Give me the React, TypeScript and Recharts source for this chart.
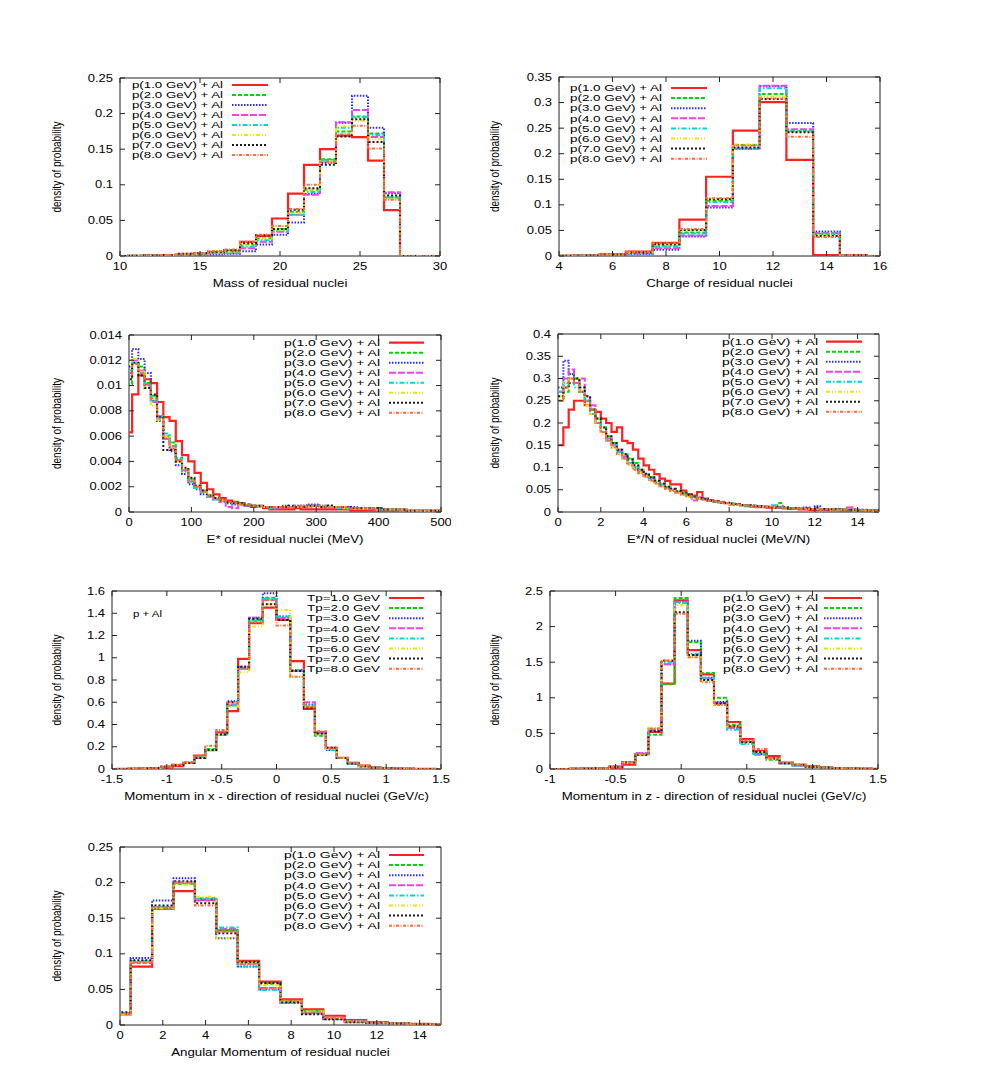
import React from 'react'
import { LineChart, Line, XAxis, YAxis, ReferenceArea } from 'recharts'

const FONT = '"Liberation Sans", Arial, Helvetica, sans-serif'

const BEAM_LABELS = ['p(1.0 GeV) + Al', 'p(2.0 GeV) + Al', 'p(3.0 GeV) + Al', 'p(4.0 GeV) + Al', 'p(5.0 GeV) + Al', 'p(6.0 GeV) + Al', 'p(7.0 GeV) + Al', 'p(8.0 GeV) + Al']
const TP_LABELS = ['Tp=1.0 GeV', 'Tp=2.0 GeV', 'Tp=3.0 GeV', 'Tp=4.0 GeV', 'Tp=5.0 GeV', 'Tp=6.0 GeV', 'Tp=7.0 GeV', 'Tp=8.0 GeV']
const COLORS = ['#ff2020', '#00d800', '#2a2aff', '#f040f0', '#00d8d8', '#e8e800', '#1a1a1a', '#ff6a3d']
const DASHES = ['', '4 2', '1.5 1.5', '7 2', '5 2 1.5 2', '4 2 1 2 1 2', '2 2', '3 1.5 1 1.5']
const WIDTHS = [2.2, 2, 2, 2, 2, 2, 2, 2]

const range = (start: number, stop: number, step: number) =>
  Array.from({ length: Math.round((stop - start) / step) + 1 }, (_, i) => +(start + i * step).toFixed(4))

// histeps: edges half a bin either side of each centre
const edgesFromCenters = (centers: number[]) => {
  const w = centers[1] - centers[0]
  return [...centers.map((c) => +(c - w / 2).toFixed(4)), +(centers[centers.length - 1] + w / 2).toFixed(4)]
}

// ---- mass of residual nuclei (bins centred on integers 10..30)
const MASS_CENTERS = range(10, 30, 1)
const MASS_RED = [0, 0, 0.0005, 0.001, 0.002, 0.003, 0.005, 0.0066, 0.0198, 0.0282, 0.0527, 0.0875, 0.128, 0.15, 0.169, 0.167, 0.134, 0.0645, 0, 0, 0]
const MASS_GREEN = [0, 0.0002, 0.0005, 0.0012, 0.0025, 0.003, 0.005, 0.007, 0.015, 0.025, 0.038, 0.062, 0.093, 0.136, 0.175, 0.196, 0.172, 0.082, 0, 0, 0]
const MASS_BLUE = [0, 0.0001, 0.0003, 0.0008, 0.0015, 0.002, 0.002, 0.003, 0.0065, 0.016, 0.03, 0.047, 0.087, 0.131, 0.187, 0.225, 0.18, 0.088, 0, 0, 0]
const MASS_MAGENTA = [0, 0.0002, 0.0004, 0.001, 0.002, 0.003, 0.004, 0.004, 0.011, 0.02, 0.034, 0.058, 0.086, 0.135, 0.188, 0.205, 0.167, 0.0895, 0, 0, 0]
const MASS_CYAN = [0, 0.0002, 0.0005, 0.001, 0.002, 0.003, 0.004, 0.005, 0.013, 0.022, 0.035, 0.058, 0.09, 0.134, 0.18, 0.195, 0.17, 0.082, 0, 0, 0]
const MASS_YELLOW = [0, 0.0002, 0.0005, 0.0012, 0.0025, 0.003, 0.005, 0.006, 0.015, 0.025, 0.037, 0.06, 0.093, 0.133, 0.182, 0.19, 0.164, 0.08, 0, 0, 0]
const MASS_BLACK = [0, 0.0003, 0.0006, 0.0015, 0.003, 0.004, 0.006, 0.008, 0.018, 0.029, 0.038, 0.065, 0.095, 0.128, 0.168, 0.192, 0.16, 0.085, 0, 0, 0]
const MASS_ORANGE = [0, 0.0003, 0.0007, 0.0015, 0.003, 0.004, 0.007, 0.009, 0.02, 0.03, 0.042, 0.066, 0.1, 0.132, 0.171, 0.183, 0.151, 0.079, 0, 0, 0]

// ---- charge of residual nuclei (4..16)
const CHARGE_CENTERS = range(4, 16, 1)
const CHARGE_RED = [0.0003, 0.001, 0.003, 0.0085, 0.0255, 0.0713, 0.155, 0.245, 0.301, 0.188, 0.002, 0, 0]
const CHARGE_GREEN = [0.0003, 0.001, 0.002, 0.006, 0.02, 0.046, 0.108, 0.217, 0.317, 0.245, 0.043, 0.002, 0]
const CHARGE_BLUE = [0.0002, 0.001, 0.002, 0.004, 0.012, 0.038, 0.095, 0.209, 0.332, 0.26, 0.048, 0.002, 0]
const CHARGE_MAGENTA = [0.0002, 0.001, 0.002, 0.005, 0.015, 0.04, 0.098, 0.21, 0.333, 0.248, 0.045, 0.002, 0]
const CHARGE_CYAN = [0.0002, 0.001, 0.002, 0.005, 0.018, 0.044, 0.105, 0.21, 0.328, 0.244, 0.044, 0.002, 0]
const CHARGE_YELLOW = [0.0003, 0.001, 0.003, 0.007, 0.022, 0.05, 0.112, 0.218, 0.312, 0.243, 0.04, 0.002, 0]
const CHARGE_BLACK = [0.0003, 0.001, 0.003, 0.007, 0.023, 0.051, 0.111, 0.212, 0.307, 0.242, 0.039, 0.002, 0]
const CHARGE_ORANGE = [0.0003, 0.0012, 0.003, 0.008, 0.025, 0.053, 0.113, 0.216, 0.308, 0.233, 0.037, 0.002, 0]

// ---- E* (MeV), 10 MeV bins
const ESTAR_CENTERS = range(0, 500, 10)
const ESTAR_RED = [0.0063, 0.0093, 0.0108, 0.0105, 0.0102, 0.0087, 0.0075, 0.0072, 0.0056, 0.0045, 0.004, 0.0031, 0.0023, 0.0018, 0.0014, 0.0011, 0.0009, 0.0008, 0.0007, 0.0005, 0.0004, 0.0004, 0.0003, 0.0002, 0.0002, 0.0002, 0.0002, 0.0003, 0.0002, 0.0002, 0.0002, 0.0002, 0.0002, 0.0002, 0.0002, 0.0002, 0.0001, 0.0001, 0.0001, 0.0001, 0.0001, 0.0001, 0.0001, 0.0001, 0.0001, 0.0001, 0.0001, 0.0001, 0.0001, 0.0001, 0]
const ESTAR_GREEN = [0.0101, 0.0117, 0.0115, 0.0102, 0.0092, 0.0075, 0.006, 0.0055, 0.0043, 0.0033, 0.0026, 0.002, 0.0017, 0.0013, 0.001, 0.0009, 0.0008, 0.0008, 0.0007, 0.0006, 0.0005, 0.0005, 0.0004, 0.0004, 0.0004, 0.0004, 0.0004, 0.0004, 0.0004, 0.0005, 0.0005, 0.0004, 0.0005, 0.0004, 0.0004, 0.0004, 0.0003, 0.0003, 0.0003, 0.0003, 0.0003, 0.0002, 0.0002, 0.0002, 0.0002, 0.0001, 0.0001, 0.0001, 0.0001, 0.0001, 0.0001]
const ESTAR_BLUE = [0.0115, 0.0129, 0.0121, 0.011, 0.0088, 0.0072, 0.0058, 0.0048, 0.0037, 0.003, 0.0022, 0.0018, 0.0014, 0.0012, 0.001, 0.0009, 0.0007, 0.0006, 0.0006, 0.0005, 0.0005, 0.0004, 0.0004, 0.0004, 0.0004, 0.0005, 0.0004, 0.0005, 0.0005, 0.0006, 0.0006, 0.0005, 0.0005, 0.0004, 0.0004, 0.0004, 0.0004, 0.0003, 0.0003, 0.0003, 0.0003, 0.0002, 0.0002, 0.0002, 0.0002, 0.0001, 0.0001, 0.0001, 0.0001, 0.0001, 0.0001]
const ESTAR_MAGENTA = [0.011, 0.012, 0.0112, 0.0101, 0.0087, 0.0076, 0.0058, 0.005, 0.0041, 0.0033, 0.0025, 0.002, 0.0016, 0.0012, 0.001, 0.0008, 0.0004, 0.0003, 0.0006, 0.0005, 0.0005, 0.0004, 0.0004, 0.0004, 0.0003, 0.0004, 0.0004, 0.0004, 0.0005, 0.0004, 0.0005, 0.0004, 0.0004, 0.0004, 0.0004, 0.0003, 0.0003, 0.0003, 0.0003, 0.0002, 0.0002, 0.0002, 0.0002, 0.0002, 0.0001, 0.0001, 0.0001, 0.0001, 0.0001, 0.0001, 0.0001]
const ESTAR_CYAN = [0.0112, 0.0118, 0.011, 0.01, 0.0088, 0.0076, 0.0062, 0.0052, 0.0042, 0.0032, 0.0024, 0.0019, 0.0016, 0.0012, 0.001, 0.0009, 0.0008, 0.0007, 0.0006, 0.0005, 0.0005, 0.0004, 0.0004, 0.0003, 0.0004, 0.0004, 0.0004, 0.0004, 0.0004, 0.0004, 0.0005, 0.0004, 0.0004, 0.0004, 0.0003, 0.0003, 0.0003, 0.0003, 0.0003, 0.0003, 0.0002, 0.0002, 0.0002, 0.0002, 0.0001, 0.0001, 0.0001, 0.0001, 0.0001, 0.0001, 0.0001]
const ESTAR_YELLOW = [0.0117, 0.0121, 0.0112, 0.0098, 0.0084, 0.0073, 0.006, 0.005, 0.004, 0.0034, 0.0026, 0.0021, 0.0016, 0.0013, 0.0011, 0.0009, 0.0008, 0.0007, 0.0006, 0.0006, 0.0005, 0.0004, 0.0004, 0.0004, 0.0004, 0.0004, 0.0004, 0.0004, 0.0005, 0.0004, 0.0004, 0.0004, 0.0004, 0.0004, 0.0004, 0.0003, 0.0003, 0.0003, 0.0003, 0.0003, 0.0002, 0.0002, 0.0002, 0.0002, 0.0002, 0.0001, 0.0001, 0.0001, 0.0001, 0.0001, 0.0001]
const ESTAR_BLACK = [0.0105, 0.0118, 0.0108, 0.0098, 0.0093, 0.0075, 0.0049, 0.0049, 0.004, 0.0035, 0.0027, 0.0021, 0.0017, 0.0013, 0.0011, 0.0009, 0.0008, 0.0007, 0.0007, 0.0006, 0.0005, 0.0005, 0.0004, 0.0004, 0.0004, 0.0004, 0.0005, 0.0004, 0.0004, 0.0005, 0.0005, 0.0004, 0.0005, 0.0004, 0.0004, 0.0004, 0.0003, 0.0003, 0.0003, 0.0003, 0.0003, 0.0002, 0.0002, 0.0002, 0.0002, 0.0001, 0.0001, 0.0001, 0.0001, 0.0001, 0.0001]
const ESTAR_ORANGE = [0.0108, 0.0117, 0.011, 0.01, 0.009, 0.0074, 0.0058, 0.0052, 0.0041, 0.0033, 0.0025, 0.002, 0.0016, 0.0013, 0.0011, 0.0009, 0.0008, 0.0007, 0.0006, 0.0006, 0.0005, 0.0005, 0.0004, 0.0004, 0.0004, 0.0004, 0.0004, 0.0005, 0.0004, 0.0005, 0.0005, 0.0005, 0.0004, 0.0004, 0.0004, 0.0004, 0.0003, 0.0003, 0.0003, 0.0003, 0.0002, 0.0002, 0.0002, 0.0002, 0.0002, 0.0001, 0.0001, 0.0001, 0.0001, 0.0001, 0.0001]

// ---- E*/N (MeV/N), 0.25 bins from 0 to 15
const EN_EDGES = range(0, 15, 0.25)
const EN_RED = [0.15, 0.19, 0.23, 0.25, 0.25, 0.24, 0.23, 0.225, 0.21, 0.2, 0.18, 0.19, 0.16, 0.155, 0.14, 0.12, 0.105, 0.095, 0.085, 0.075, 0.07, 0.062, 0.062, 0.048, 0.04, 0.037, 0.045, 0.03, 0.026, 0.024, 0.021, 0.02, 0.017, 0.016, 0.015, 0.013, 0.012, 0.011, 0.011, 0.01, 0.009, 0.009, 0.008, 0.007, 0.007, 0.006, 0.006, 0.005, 0.005, 0.005, 0.004, 0.004, 0.004, 0.003, 0.003, 0.003, 0.003, 0.003, 0.002, 0.002]
const EN_GREEN = [0.25, 0.27, 0.31, 0.3, 0.27, 0.25, 0.23, 0.21, 0.19, 0.17, 0.155, 0.14, 0.13, 0.12, 0.11, 0.095, 0.085, 0.078, 0.07, 0.062, 0.056, 0.05, 0.046, 0.042, 0.036, 0.034, 0.032, 0.03, 0.026, 0.025, 0.023, 0.02, 0.019, 0.017, 0.016, 0.015, 0.014, 0.013, 0.012, 0.012, 0.011, 0.02, 0.01, 0.009, 0.009, 0.008, 0.008, 0.007, 0.007, 0.006, 0.007, 0.006, 0.005, 0.006, 0.005, 0.005, 0.004, 0.005, 0.004, 0.004]
const EN_BLUE = [0.28, 0.34, 0.31, 0.29, 0.27, 0.25, 0.22, 0.2, 0.18, 0.165, 0.15, 0.135, 0.122, 0.11, 0.1, 0.09, 0.082, 0.075, 0.066, 0.06, 0.054, 0.049, 0.045, 0.04, 0.036, 0.033, 0.03, 0.028, 0.026, 0.023, 0.021, 0.02, 0.018, 0.017, 0.016, 0.015, 0.013, 0.013, 0.012, 0.011, 0.01, 0.01, 0.009, 0.009, 0.008, 0.008, 0.01, 0.007, 0.013, 0.007, 0.006, 0.006, 0.006, 0.005, 0.005, 0.005, 0.005, 0.004, 0.004, 0.004]
const EN_MAGENTA = [0.27, 0.3, 0.32, 0.29, 0.3, 0.26, 0.24, 0.2, 0.18, 0.165, 0.15, 0.14, 0.125, 0.11, 0.1, 0.092, 0.08, 0.074, 0.068, 0.06, 0.052, 0.05, 0.044, 0.04, 0.035, 0.026, 0.033, 0.029, 0.026, 0.024, 0.022, 0.02, 0.018, 0.017, 0.016, 0.014, 0.014, 0.013, 0.012, 0.011, 0.011, 0.01, 0.01, 0.009, 0.009, 0.008, 0.008, 0.007, 0.007, 0.007, 0.006, 0.006, 0.006, 0.005, 0.01, 0.005, 0.005, 0.004, 0.004, 0.003]
const EN_CYAN = [0.27, 0.29, 0.3, 0.28, 0.27, 0.25, 0.22, 0.2, 0.18, 0.16, 0.15, 0.135, 0.12, 0.11, 0.1, 0.09, 0.081, 0.074, 0.068, 0.061, 0.055, 0.05, 0.044, 0.04, 0.036, 0.032, 0.03, 0.028, 0.025, 0.023, 0.021, 0.02, 0.018, 0.016, 0.015, 0.014, 0.014, 0.012, 0.012, 0.011, 0.015, 0.01, 0.009, 0.009, 0.008, 0.008, 0.007, 0.007, 0.007, 0.006, 0.006, 0.006, 0.005, 0.005, 0.005, 0.005, 0.004, 0.004, 0.004, 0.003]
const EN_YELLOW = [0.26, 0.29, 0.3, 0.3, 0.27, 0.24, 0.22, 0.2, 0.175, 0.16, 0.145, 0.13, 0.12, 0.108, 0.098, 0.088, 0.08, 0.072, 0.066, 0.058, 0.053, 0.048, 0.043, 0.039, 0.035, 0.032, 0.03, 0.027, 0.025, 0.023, 0.021, 0.019, 0.018, 0.016, 0.015, 0.014, 0.013, 0.012, 0.011, 0.011, 0.01, 0.01, 0.009, 0.009, 0.008, 0.008, 0.007, 0.007, 0.006, 0.006, 0.006, 0.005, 0.005, 0.005, 0.005, 0.004, 0.004, 0.004, 0.004, 0.003]
const EN_BLACK = [0.26, 0.28, 0.29, 0.3, 0.28, 0.26, 0.23, 0.21, 0.19, 0.17, 0.155, 0.14, 0.13, 0.118, 0.105, 0.095, 0.086, 0.078, 0.07, 0.064, 0.057, 0.052, 0.047, 0.042, 0.038, 0.034, 0.031, 0.029, 0.026, 0.024, 0.022, 0.021, 0.019, 0.018, 0.016, 0.015, 0.014, 0.013, 0.012, 0.012, 0.011, 0.01, 0.01, 0.009, 0.009, 0.008, 0.008, 0.007, 0.01, 0.007, 0.006, 0.006, 0.006, 0.005, 0.005, 0.005, 0.004, 0.004, 0.004, 0.004]
const EN_ORANGE = [0.25, 0.28, 0.3, 0.29, 0.27, 0.25, 0.23, 0.2, 0.18, 0.16, 0.145, 0.13, 0.12, 0.105, 0.095, 0.087, 0.078, 0.07, 0.064, 0.058, 0.052, 0.047, 0.043, 0.04, 0.036, 0.033, 0.03, 0.028, 0.026, 0.024, 0.022, 0.02, 0.018, 0.017, 0.016, 0.015, 0.014, 0.013, 0.012, 0.011, 0.011, 0.01, 0.009, 0.009, 0.008, 0.008, 0.007, 0.007, 0.007, 0.006, 0.006, 0.006, 0.005, 0.005, 0.01, 0.005, 0.004, 0.004, 0.004, 0.003]

// ---- momentum in x (GeV/c); bin edges
const PX_EDGES = [-1.55, -1.45, -1.35, -1.25, -1.15, -1.05, -0.95, -0.85, -0.75, -0.65, -0.55, -0.45, -0.35, -0.25, -0.125, 0, 0.125, 0.25, 0.35, 0.45, 0.55, 0.65, 0.75, 0.85, 0.95, 1.05, 1.15, 1.25, 1.35, 1.45, 1.55]
const PX_RED = [0, 0.001, 0.002, 0.003, 0.006, 0.012, 0.025, 0.055, 0.12, 0.17, 0.33, 0.52, 0.99, 1.31, 1.45, 1.34, 0.97, 0.54, 0.33, 0.19, 0.1, 0.055, 0.03, 0.012, 0.006, 0.003, 0.002, 0.001, 0.0005, 0]
const PX_GREEN = [0, 0.001, 0.002, 0.004, 0.008, 0.018, 0.035, 0.055, 0.1, 0.18, 0.31, 0.57, 0.9, 1.34, 1.54, 1.36, 0.88, 0.56, 0.3, 0.18, 0.1, 0.05, 0.025, 0.012, 0.006, 0.003, 0.002, 0.001, 0.0005, 0]
const PX_BLUE = [0, 0.001, 0.002, 0.004, 0.008, 0.02, 0.035, 0.055, 0.1, 0.17, 0.31, 0.61, 0.92, 1.36, 1.58, 1.37, 0.89, 0.58, 0.32, 0.17, 0.1, 0.05, 0.025, 0.012, 0.006, 0.003, 0.002, 0.001, 0.0005, 0]
const PX_MAGENTA = [0, 0.001, 0.002, 0.004, 0.008, 0.02, 0.035, 0.055, 0.1, 0.17, 0.32, 0.58, 0.91, 1.36, 1.52, 1.35, 0.88, 0.6, 0.33, 0.18, 0.1, 0.05, 0.025, 0.012, 0.006, 0.003, 0.002, 0.001, 0.0005, 0]
const PX_CYAN = [0, 0.001, 0.002, 0.004, 0.008, 0.02, 0.035, 0.06, 0.11, 0.17, 0.31, 0.57, 0.9, 1.33, 1.53, 1.37, 0.89, 0.57, 0.31, 0.17, 0.1, 0.05, 0.025, 0.012, 0.006, 0.003, 0.002, 0.001, 0.0005, 0]
const PX_YELLOW = [0, 0.001, 0.002, 0.004, 0.008, 0.02, 0.035, 0.055, 0.1, 0.17, 0.31, 0.56, 0.87, 1.28, 1.48, 1.43, 0.83, 0.56, 0.31, 0.18, 0.1, 0.055, 0.03, 0.012, 0.006, 0.003, 0.002, 0.001, 0.0005, 0]
const PX_BLACK = [0, 0.001, 0.002, 0.004, 0.008, 0.02, 0.035, 0.055, 0.1, 0.17, 0.31, 0.6, 0.92, 1.35, 1.48, 1.34, 0.88, 0.55, 0.32, 0.19, 0.1, 0.05, 0.025, 0.012, 0.006, 0.003, 0.002, 0.001, 0.0005, 0]
const PX_ORANGE = [0, 0.001, 0.002, 0.004, 0.01, 0.02, 0.04, 0.06, 0.12, 0.21, 0.35, 0.6, 0.9, 1.32, 1.52, 1.29, 0.83, 0.56, 0.34, 0.19, 0.1, 0.055, 0.03, 0.012, 0.006, 0.003, 0.002, 0.001, 0.0005, 0]

// ---- momentum in z (GeV/c), 0.1 bins centred on -1.0..1.5
const PZ_CENTERS = range(-1, 1.5, 0.1)
const PZ_RED = [0, 0, 0.002, 0.005, 0.01, 0.02, 0.06, 0.21, 0.52, 1.2, 2.37, 1.67, 1.33, 0.93, 0.66, 0.42, 0.25, 0.18, 0.09, 0.06, 0.04, 0.02, 0.012, 0.006, 0.003, 0.001]
const PZ_GREEN = [0, 0, 0.002, 0.005, 0.012, 0.03, 0.09, 0.2, 0.48, 1.19, 2.4, 1.78, 1.35, 1.0, 0.62, 0.38, 0.22, 0.13, 0.08, 0.05, 0.03, 0.02, 0.01, 0.006, 0.003, 0.001]
const PZ_BLUE = [0, 0, 0.002, 0.006, 0.012, 0.035, 0.1, 0.22, 0.55, 1.47, 2.35, 1.8, 1.28, 0.94, 0.58, 0.37, 0.21, 0.14, 0.08, 0.05, 0.03, 0.02, 0.01, 0.006, 0.003, 0.001]
const PZ_MAGENTA = [0, 0, 0.002, 0.006, 0.012, 0.03, 0.1, 0.22, 0.54, 1.47, 2.35, 1.6, 1.27, 0.92, 0.58, 0.38, 0.2, 0.15, 0.08, 0.05, 0.03, 0.02, 0.01, 0.006, 0.003, 0.001]
const PZ_CYAN = [0, 0, 0.002, 0.006, 0.012, 0.03, 0.09, 0.21, 0.56, 1.5, 2.33, 1.62, 1.28, 0.92, 0.55, 0.35, 0.21, 0.14, 0.08, 0.05, 0.03, 0.02, 0.01, 0.006, 0.003, 0.001]
const PZ_YELLOW = [0, 0, 0.002, 0.005, 0.012, 0.03, 0.09, 0.2, 0.58, 1.53, 2.3, 1.57, 1.24, 0.9, 0.6, 0.37, 0.24, 0.14, 0.09, 0.06, 0.03, 0.02, 0.01, 0.006, 0.003, 0.001]
const PZ_BLACK = [0, 0, 0.002, 0.005, 0.012, 0.03, 0.09, 0.2, 0.53, 1.52, 2.2, 1.6, 1.25, 0.92, 0.6, 0.38, 0.24, 0.15, 0.08, 0.06, 0.03, 0.02, 0.01, 0.006, 0.003, 0.001]
const PZ_ORANGE = [0, 0, 0.002, 0.005, 0.012, 0.03, 0.09, 0.21, 0.57, 1.52, 2.18, 1.57, 1.22, 0.9, 0.6, 0.4, 0.28, 0.15, 0.09, 0.06, 0.04, 0.02, 0.012, 0.006, 0.003, 0.001]

// ---- angular momentum (0..15)
const L_CENTERS = range(0, 15, 1)
const L_RED = [0.015, 0.082, 0.163, 0.188, 0.176, 0.133, 0.09, 0.061, 0.036, 0.022, 0.013, 0.007, 0.004, 0.002, 0.0015, 0.001]
const L_GREEN = [0.016, 0.087, 0.163, 0.198, 0.178, 0.133, 0.089, 0.058, 0.034, 0.02, 0.01, 0.005, 0.003, 0.002, 0.001, 0.001]
const L_BLUE = [0.017, 0.094, 0.175, 0.206, 0.176, 0.122, 0.082, 0.05, 0.031, 0.016, 0.008, 0.004, 0.003, 0.002, 0.001, 0.001]
const L_MAGENTA = [0.016, 0.089, 0.165, 0.2, 0.175, 0.135, 0.086, 0.052, 0.032, 0.017, 0.009, 0.005, 0.003, 0.002, 0.001, 0.001]
const L_CYAN = [0.017, 0.09, 0.166, 0.199, 0.177, 0.137, 0.082, 0.049, 0.031, 0.018, 0.009, 0.005, 0.003, 0.002, 0.001, 0.001]
const L_YELLOW = [0.015, 0.088, 0.164, 0.197, 0.18, 0.122, 0.087, 0.056, 0.033, 0.019, 0.01, 0.005, 0.003, 0.002, 0.001, 0.001]
const L_BLACK = [0.018, 0.091, 0.168, 0.202, 0.171, 0.129, 0.088, 0.059, 0.032, 0.015, 0.008, 0.004, 0.003, 0.002, 0.001, 0.001]
const L_ORANGE = [0.016, 0.088, 0.165, 0.2, 0.168, 0.131, 0.086, 0.052, 0.034, 0.018, 0.01, 0.005, 0.003, 0.002, 0.001, 0.001]

function stepRows(edges: number[], series: number[][]) {
  return edges.map((x, i) => {
    const row: Record<string, number> = { x }
    series.forEach((s, k) => {
      row['s' + k] = s[Math.min(i, s.length - 1)]
    })
    return row
  })
}

const fmt = (v: number) => String(Number(v.toFixed(6)))

// the reference text is horizontally stretched (gnuplot output scaled wider than tall)
const SX = 1.3

function SText({ x, y, anchor, size = 10, sx = SX, length, children }: any) {
  return (
    <text
      transform={`translate(${x},${y}) scale(${sx},1)`}
      textAnchor={anchor}
      textLength={length}
      lengthAdjust={length ? 'spacingAndGlyphs' : undefined}
      style={{ fontFamily: FONT, fontSize: size, fill: '#000' }}
    >
      {children}
    </text>
  )
}

type PanelCfg = {
  plot: [number, number, number, number] // left, top, right, bottom on the page
  edges: number[]
  series: number[][]
  xDomain: [number, number]
  xTicks: number[]
  yDomain: [number, number]
  yTicks: number[]
  xLabel: string
  yLabelX: number
  legend: { labels: string[]; textEnd: number; width: number; line: [number, number]; y0: number; dy: number }
  note?: { text: string; x: number; y: number; width: number }
}

const LEFT_Y = 57.5
const RIGHT_Y = 495.5

const PANELS: PanelCfg[] = [
  {
    plot: [120, 78, 440, 256], edges: edgesFromCenters(MASS_CENTERS),
    series: [MASS_RED, MASS_GREEN, MASS_BLUE, MASS_MAGENTA, MASS_CYAN, MASS_YELLOW, MASS_BLACK, MASS_ORANGE],
    xDomain: [10, 30], xTicks: [10, 15, 20, 25, 30], yDomain: [0, 0.25], yTicks: [0, 0.05, 0.1, 0.15, 0.2, 0.25],
    xLabel: 'Mass of residual nuclei', yLabelX: LEFT_Y,
    legend: { labels: BEAM_LABELS, textEnd: 223, width: 91, line: [232, 268], y0: 85, dy: 10 },
  },
  {
    plot: [559, 77, 880, 256], edges: edgesFromCenters(CHARGE_CENTERS),
    series: [CHARGE_RED, CHARGE_GREEN, CHARGE_BLUE, CHARGE_MAGENTA, CHARGE_CYAN, CHARGE_YELLOW, CHARGE_BLACK, CHARGE_ORANGE],
    xDomain: [4, 16], xTicks: [4, 6, 8, 10, 12, 14, 16], yDomain: [0, 0.35], yTicks: [0, 0.05, 0.1, 0.15, 0.2, 0.25, 0.3, 0.35],
    xLabel: 'Charge of residual nuclei', yLabelX: RIGHT_Y,
    legend: { labels: BEAM_LABELS, textEnd: 662, width: 92, line: [671, 707], y0: 88, dy: 10.1 },
  },
  {
    plot: [129, 335, 441, 512], edges: edgesFromCenters(ESTAR_CENTERS),
    series: [ESTAR_RED, ESTAR_GREEN, ESTAR_BLUE, ESTAR_MAGENTA, ESTAR_CYAN, ESTAR_YELLOW, ESTAR_BLACK, ESTAR_ORANGE],
    xDomain: [0, 500], xTicks: [0, 100, 200, 300, 400, 500], yDomain: [0, 0.014], yTicks: [0, 0.002, 0.004, 0.006, 0.008, 0.01, 0.012, 0.014],
    xLabel: 'E* of residual nuclei (MeV)', yLabelX: LEFT_Y,
    legend: { labels: BEAM_LABELS, textEnd: 380, width: 96, line: [389, 424], y0: 342.7, dy: 10 },
  },
  {
    plot: [558, 334, 879, 512], edges: EN_EDGES,
    series: [EN_RED, EN_GREEN, EN_BLUE, EN_MAGENTA, EN_CYAN, EN_YELLOW, EN_BLACK, EN_ORANGE],
    xDomain: [0, 15], xTicks: [0, 2, 4, 6, 8, 10, 12, 14], yDomain: [0, 0.4], yTicks: [0, 0.05, 0.1, 0.15, 0.2, 0.25, 0.3, 0.35, 0.4],
    xLabel: 'E*/N of residual nuclei (MeV/N)', yLabelX: RIGHT_Y,
    legend: { labels: BEAM_LABELS, textEnd: 818, width: 96, line: [826, 862], y0: 341.7, dy: 10 },
  },
  {
    plot: [112, 591, 441, 769], edges: PX_EDGES,
    series: [PX_RED, PX_GREEN, PX_BLUE, PX_MAGENTA, PX_CYAN, PX_YELLOW, PX_BLACK, PX_ORANGE],
    xDomain: [-1.5, 1.5], xTicks: [-1.5, -1, -0.5, 0, 0.5, 1, 1.5], yDomain: [0, 1.6], yTicks: [0, 0.2, 0.4, 0.6, 0.8, 1, 1.2, 1.4, 1.6],
    xLabel: 'Momentum in x - direction of residual nuclei (GeV/c)', yLabelX: LEFT_Y,
    legend: { labels: TP_LABELS, textEnd: 380, width: 73, line: [389, 424], y0: 598, dy: 10.1 },
    note: { text: 'p + Al', x: 133, y: 616.5, width: 29 },
  },
  {
    plot: [550, 591, 878, 769], edges: edgesFromCenters(PZ_CENTERS),
    series: [PZ_RED, PZ_GREEN, PZ_BLUE, PZ_MAGENTA, PZ_CYAN, PZ_YELLOW, PZ_BLACK, PZ_ORANGE],
    xDomain: [-1, 1.5], xTicks: [-1, -0.5, 0, 0.5, 1, 1.5], yDomain: [0, 2.5], yTicks: [0, 0.5, 1, 1.5, 2, 2.5],
    xLabel: 'Momentum in z - direction of residual nuclei (GeV/c)', yLabelX: RIGHT_Y,
    legend: { labels: BEAM_LABELS, textEnd: 818, width: 95, line: [824, 862], y0: 598, dy: 10.1 },
  },
  {
    plot: [120, 847, 441, 1025], edges: edgesFromCenters(L_CENTERS),
    series: [L_RED, L_GREEN, L_BLUE, L_MAGENTA, L_CYAN, L_YELLOW, L_BLACK, L_ORANGE],
    xDomain: [0, 15], xTicks: [0, 2, 4, 6, 8, 10, 12, 14], yDomain: [0, 0.25], yTicks: [0, 0.05, 0.1, 0.15, 0.2, 0.25],
    xLabel: 'Angular Momentum of residual nuclei', yLabelX: LEFT_Y,
    legend: { labels: BEAM_LABELS, textEnd: 380, width: 96, line: [389, 424], y0: 855, dy: 10.1 },
  },
]

const ML = 10, MR = 10, MT = 10, MB = 8, YW = 70, XH = 34

function Panel({ cfg }: { cfg: PanelCfg }) {
  const [pl, pt, pr, pb] = cfg.plot
  const left = pl - YW - ML
  const top = pt - MT
  const width = pr - pl + YW + ML + MR
  const height = pb - pt + MT + XH + MB
  const innerL = ML + YW
  const innerR = width - MR
  const innerT = MT
  const innerB = height - XH - MB
  const data = stepRows(cfg.edges, cfg.series)

  const xTick = (p: any) => (
    <g>
      <line x1={p.x} x2={p.x} y1={innerB} y2={innerB - 5} stroke="#222" />
      <line x1={p.x} x2={p.x} y1={innerT} y2={innerT + 5} stroke="#222" />
      <SText x={p.x} y={innerB + 14} anchor="middle">{fmt(p.payload.value)}</SText>
    </g>
  )
  const yTick = (p: any) => (
    <g>
      <line x1={innerL} x2={innerL + 5} y1={p.y} y2={p.y} stroke="#222" />
      <line x1={innerR - 5} x2={innerR} y1={p.y} y2={p.y} stroke="#222" />
      <SText x={innerL - 7} y={p.y + 3.6} anchor="end">{fmt(p.payload.value)}</SText>
    </g>
  )

  return (
    <div style={{ position: 'absolute', left, top, width, height }}>
      <LineChart width={width} height={height} data={data} margin={{ top: MT, right: MR, bottom: MB, left: ML }}>
        <XAxis
          type="number" dataKey="x" domain={cfg.xDomain} ticks={cfg.xTicks} allowDataOverflow interval={0}
          height={XH} axisLine={false} tickLine={false} tickSize={0} tickMargin={0} tick={xTick}
          label={{
            content: () => (
              <SText x={(innerL + innerR) / 2} y={innerB + 30.5} anchor="middle" size={10.2}>{cfg.xLabel}</SText>
            ),
          }}
        />
        <YAxis
          type="number" domain={cfg.yDomain} ticks={cfg.yTicks} allowDataOverflow interval={0}
          width={YW} axisLine={false} tickLine={false} tickSize={0} tickMargin={0} tick={yTick}
          label={{
            content: () => (
              <text
                transform={`translate(${cfg.yLabelX - left + 3.5},${(innerT + innerB) / 2}) scale(1.25,1) rotate(-90)`}
                textAnchor="middle"
                style={{ fontFamily: FONT, fontSize: 10, fill: '#000' }}
              >
                density of probability
              </text>
            ),
          }}
        />
        {cfg.series.map((_, k) => (
          <Line
            key={k}
            type="stepAfter"
            dataKey={'s' + k}
            stroke={COLORS[k]}
            strokeWidth={WIDTHS[k]}
            strokeDasharray={DASHES[k] || undefined}
            dot={false}
            activeDot={false}
            isAnimationActive={false}
          />
        ))}
        <ReferenceArea
          x1={cfg.xDomain[0]} x2={cfg.xDomain[1]} y1={cfg.yDomain[0]} y2={cfg.yDomain[1]}
          fill="none" fillOpacity={0} stroke="#222" strokeWidth={1} ifOverflow="visible"
        />
      </LineChart>
    </div>
  )
}

function Keys() {
  return (
    <svg width={981} height={1090} style={{ position: 'absolute', left: 0, top: 0, pointerEvents: 'none' }}>
      {PANELS.map((cfg, pi) => (
        <g key={pi}>
          {cfg.legend.labels.map((label, k) => {
            const y = cfg.legend.y0 + k * cfg.legend.dy
            return (
              <g key={k}>
                <SText x={cfg.legend.textEnd} y={y + 3.2} anchor="end" size={8.7} sx={1} length={cfg.legend.width}>
                  {label}
                </SText>
                <line
                  x1={cfg.legend.line[0]} x2={cfg.legend.line[1]} y1={y} y2={y}
                  stroke={COLORS[k]} strokeWidth={WIDTHS[k]} strokeDasharray={DASHES[k] || undefined}
                />
              </g>
            )
          })}
          {cfg.note && (
            <SText x={cfg.note.x} y={cfg.note.y} anchor="start" size={9.5} sx={1} length={cfg.note.width}>
              {cfg.note.text}
            </SText>
          )}
        </g>
      ))}
    </svg>
  )
}

export default function App() {
  return (
    <div style={{ position: 'absolute', left: 0, top: 0, width: 981, height: 1090, background: '#fff' }}>
      {PANELS.map((cfg, i) => (
        <Panel key={i} cfg={cfg} />
      ))}
      <Keys />
    </div>
  )
}
